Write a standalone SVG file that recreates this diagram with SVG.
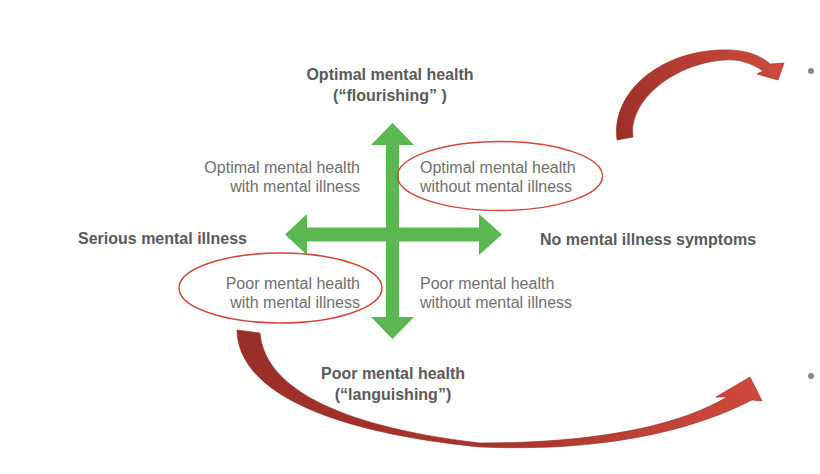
<svg xmlns="http://www.w3.org/2000/svg" width="820" height="474" viewBox="0 0 820 474">
<defs>
<style>
.b{font-family:"Liberation Sans",Arial,sans-serif;font-size:16px;font-weight:bold;fill:#5a5a5a;}
.q{font-family:"Liberation Sans",Arial,sans-serif;font-size:16px;fill:#707070;}
.ring{fill:none;stroke:#d3473b;stroke-width:1.5;}
.red{stroke:#8e2a22;stroke-width:0.6;}
</style>
<linearGradient id="gTop" x1="617" y1="140" x2="784" y2="63" gradientUnits="userSpaceOnUse">
<stop offset="0" stop-color="#9a2f28"/>
<stop offset="1" stop-color="#cf4a3d"/>
</linearGradient>
<linearGradient id="gBot" x1="237" y1="330" x2="762" y2="400" gradientUnits="userSpaceOnUse">
<stop offset="0" stop-color="#9a2f28"/>
<stop offset="0.5" stop-color="#a9342b"/>
<stop offset="1" stop-color="#d04a3d"/>
</linearGradient>
</defs>
<rect width="820" height="474" fill="#ffffff"/>
<g id="connectors">
<polygon id="axes" fill="#5bb750" points="392.5,123 414,145 399,145 399,227.5 479,227.5 479,214 502,234.5 479,255 479,241.5 399,241.5 399,317 414,317 392.5,339 371,317 386,317 386,241.5 307,241.5 307,255 285,234.5 307,214 307,227.5 386,227.5 386,145 371,145"/>
<path id="arrow-top" class="red" fill="url(#gTop)" d="M617,140 C611,92 660,52 720,50 C745,49 760,55 770,64 L784,63 L778,80 L757,74 L763,71 C751,63 740,59 725,60 C675,63 628,100 633,137 Z"/>
<path id="arrow-bottom" class="red" fill="url(#gBot)" d="M237,330 C238,392 330,432 480,447 C600,452 690,432 752,400 L762,401 L750,377 L716,397 L727,397 C680,425 600,443 480,443 C350,428 265,392 260,333 Z"/>
</g>
<g id="node-top">
<text class="b" x="390" y="80" text-anchor="middle">Optimal mental health</text>
<text class="b" x="390" y="101" text-anchor="middle">(“flourishing” )</text>
</g>
<g id="node-bottom">
<text class="b" x="393" y="379" text-anchor="middle">Poor mental health</text>
<text class="b" x="393" y="400" text-anchor="middle">(“languishing”)</text>
</g>
<g id="node-left">
<text class="b" x="78" y="244">Serious mental illness</text>
</g>
<g id="node-right">
<text class="b" x="540" y="245">No mental illness symptoms</text>
</g>
<g id="node-q-top-left">
<text class="q" x="360" y="173" text-anchor="end">Optimal mental health</text>
<text class="q" x="360" y="192" text-anchor="end">with mental illness</text>
</g>
<g id="node-q-top-right">
<ellipse class="ring" cx="500" cy="176" rx="102.5" ry="34.5"/>
<text class="q" x="420" y="173">Optimal mental health</text>
<text class="q" x="420" y="192">without mental illness</text>
</g>
<g id="node-q-bottom-left">
<ellipse class="ring" cx="280.5" cy="288" rx="101.5" ry="35"/>
<text class="q" x="360" y="289" text-anchor="end">Poor mental health</text>
<text class="q" x="360" y="308" text-anchor="end">with mental illness</text>
</g>
<g id="node-q-bottom-right">
<text class="q" x="420" y="289">Poor mental health</text>
<text class="q" x="420" y="308">without mental illness</text>
</g>
<circle cx="811" cy="71" r="3" fill="#8a8a8a"/>
<circle cx="811" cy="376" r="3" fill="#8a8a8a"/>
</svg>
